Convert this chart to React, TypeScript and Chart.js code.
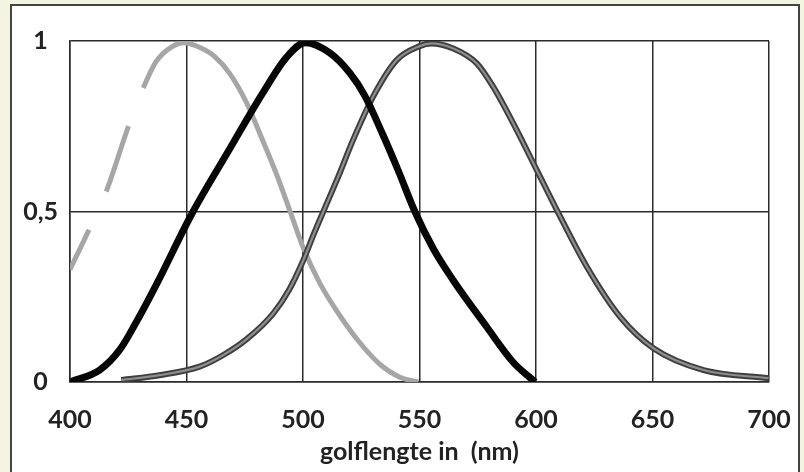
import React, { useEffect, useRef } from "react";
import { Chart, registerables } from "chart.js";

Chart.register(...registerables);

// X axis ticks (wavelength, nm) and Y axis ticks
const xTickValues = [400, 450, 500, 550, 600, 650, 700];
const yTickValues = [0, 0.5, 1];
const yTickLabels = ["0", "0,5", "1"];
const xTitle = "golflengte in  (nm)";

// Light grey curve (short wavelength cone)
const sNm = [400, 408.4, 415.6, 425.1, 431.3, 437, 443, 449, 456, 462, 468.5, 475.7, 482, 488.6, 495, 500, 507.2, 515.8, 524.4, 533, 541.6, 549.5];
const sVal = [0.33, 0.45, 0.56, 0.75, 0.86, 0.94, 0.98, 0.995, 0.98, 0.955, 0.905, 0.82, 0.72, 0.61, 0.49, 0.395, 0.29, 0.195, 0.115, 0.052, 0.014, 0.0];

// Black curve (medium)
const mNm = [400, 412.7, 421.3, 428.4, 437, 452.2, 468.5, 482.7, 492.9, 501, 511.5, 520.1, 526.5, 534.3, 541, 548, 556, 564.3, 578.8, 590.2, 599.6];
const mVal = [0.0, 0.035, 0.094, 0.175, 0.285, 0.492, 0.683, 0.847, 0.952, 0.995, 0.965, 0.906, 0.84, 0.725, 0.618, 0.5, 0.39, 0.3, 0.162, 0.058, 0.0];

// Dark grey curve (long)
const lNm = [422, 438.4, 455.6, 466, 475.7, 487.1, 494, 500, 505, 510, 515, 521.5, 530.1, 540.2, 550.1, 555, 564.5, 574.5, 581.6, 590.2, 600.3, 608.9, 621.8, 636.1, 650.4, 671.9, 699.8];
const lVal = [0.006, 0.02, 0.045, 0.08, 0.125, 0.2, 0.27, 0.355, 0.44, 0.52, 0.6, 0.71, 0.837, 0.944, 0.985, 0.993, 0.978, 0.935, 0.866, 0.759, 0.622, 0.505, 0.338, 0.191, 0.099, 0.035, 0.011];

const pts = (xs: number[], ys: number[]) => xs.map((x, i) => ({ x, y: ys[i] }));

const FONT = "Lato, 'Open Sans', sans-serif";
const GRID = "#2b2b2b";

export default function App() {
  const ref = useRef<HTMLCanvasElement>(null);

  useEffect(() => {
    document.body.style.margin = "0";
    const chart = new Chart(ref.current!, {
      type: "line",
      data: {
        datasets: [
          {
            data: pts(mNm, mVal),
            borderColor: "#060606",
            borderWidth: 7,
            pointRadius: 0,
            cubicInterpolationMode: "monotone",
            order: 1,
          },
          {
            data: pts(lNm, lVal),
            borderColor: "#8e8e8e",
            borderWidth: 2.2,
            pointRadius: 0,
            cubicInterpolationMode: "monotone",
            order: 2,
          },
          {
            data: pts(lNm, lVal),
            borderColor: "#3e3e3e",
            borderWidth: 6,
            pointRadius: 0,
            cubicInterpolationMode: "monotone",
            order: 3,
          },
          {
            data: pts(sNm, sVal),
            borderColor: "#a6a6a6",
            borderWidth: 5,
            borderDash: [44, 42, 69, 41, 3000, 0],
            borderCapStyle: "butt",
            pointRadius: 0,
            cubicInterpolationMode: "monotone",
            order: 4,
          },
        ],
      },
      options: {
        responsive: false,
        animation: false,
        events: [],
        layout: { padding: { left: 0, top: 41, right: 35, bottom: 0 } },
        plugins: { legend: { display: false }, tooltip: { enabled: false } },
        scales: {
          x: {
            type: "linear",
            min: 400,
            max: 700,
            afterBuildTicks: (s: any) => {
              s.ticks = xTickValues.map((v) => ({ value: v }));
            },
            afterFit: (s: any) => {
              s.height = 90;
              s.paddingLeft = 0;
              s.paddingRight = 0;
            },
            grid: { color: GRID, lineWidth: 1.5, drawTicks: false },
            border: { color: GRID, width: 1.5 },
            ticks: {
              autoSkip: false,
              maxRotation: 0,
              padding: 23,
              color: "#222",
              font: { family: FONT, size: 25, weight: "bold" },
              callback: (v: any) => String(v),
            },
            title: {
              display: true,
              text: xTitle,
              color: "#222",
              font: { family: FONT, size: 25, weight: "bold" },
              padding: { top: 0, bottom: 5 },
            },
          },
          y: {
            min: 0,
            max: 1,
            afterBuildTicks: (s: any) => {
              s.ticks = yTickValues.map((v) => ({ value: v }));
            },
            afterFit: (s: any) => {
              s.width = 70;
              s.paddingTop = 0;
              s.paddingBottom = 0;
            },
            grid: { color: GRID, lineWidth: 1.5, drawTicks: false },
            border: { color: GRID, width: 1.5 },
            ticks: {
              autoSkip: false,
              padding: 12,
              crossAlign: "center",
              color: "#222",
              font: { family: FONT, size: 25, weight: "bold" },
              callback: (v: any) => {
                const i = yTickValues.indexOf(Number(v));
                return i >= 0 ? yTickLabels[i] : "";
              },
            },
          },
        },
      },
    } as any);
    return () => chart.destroy();
  }, []);

  return (
    <div style={{ position: "relative", width: 804, height: 472, background: "#f3f5e0", overflow: "hidden" }}>
      <div
        style={{
          position: "absolute",
          left: 10,
          top: 4,
          width: 786,
          height: 490,
          background: "#ffffff",
          border: "2px solid #444",
        }}
      />
      <canvas ref={ref} width={804} height={472} style={{ position: "absolute", left: 0, top: 0 }} />
    </div>
  );
}
